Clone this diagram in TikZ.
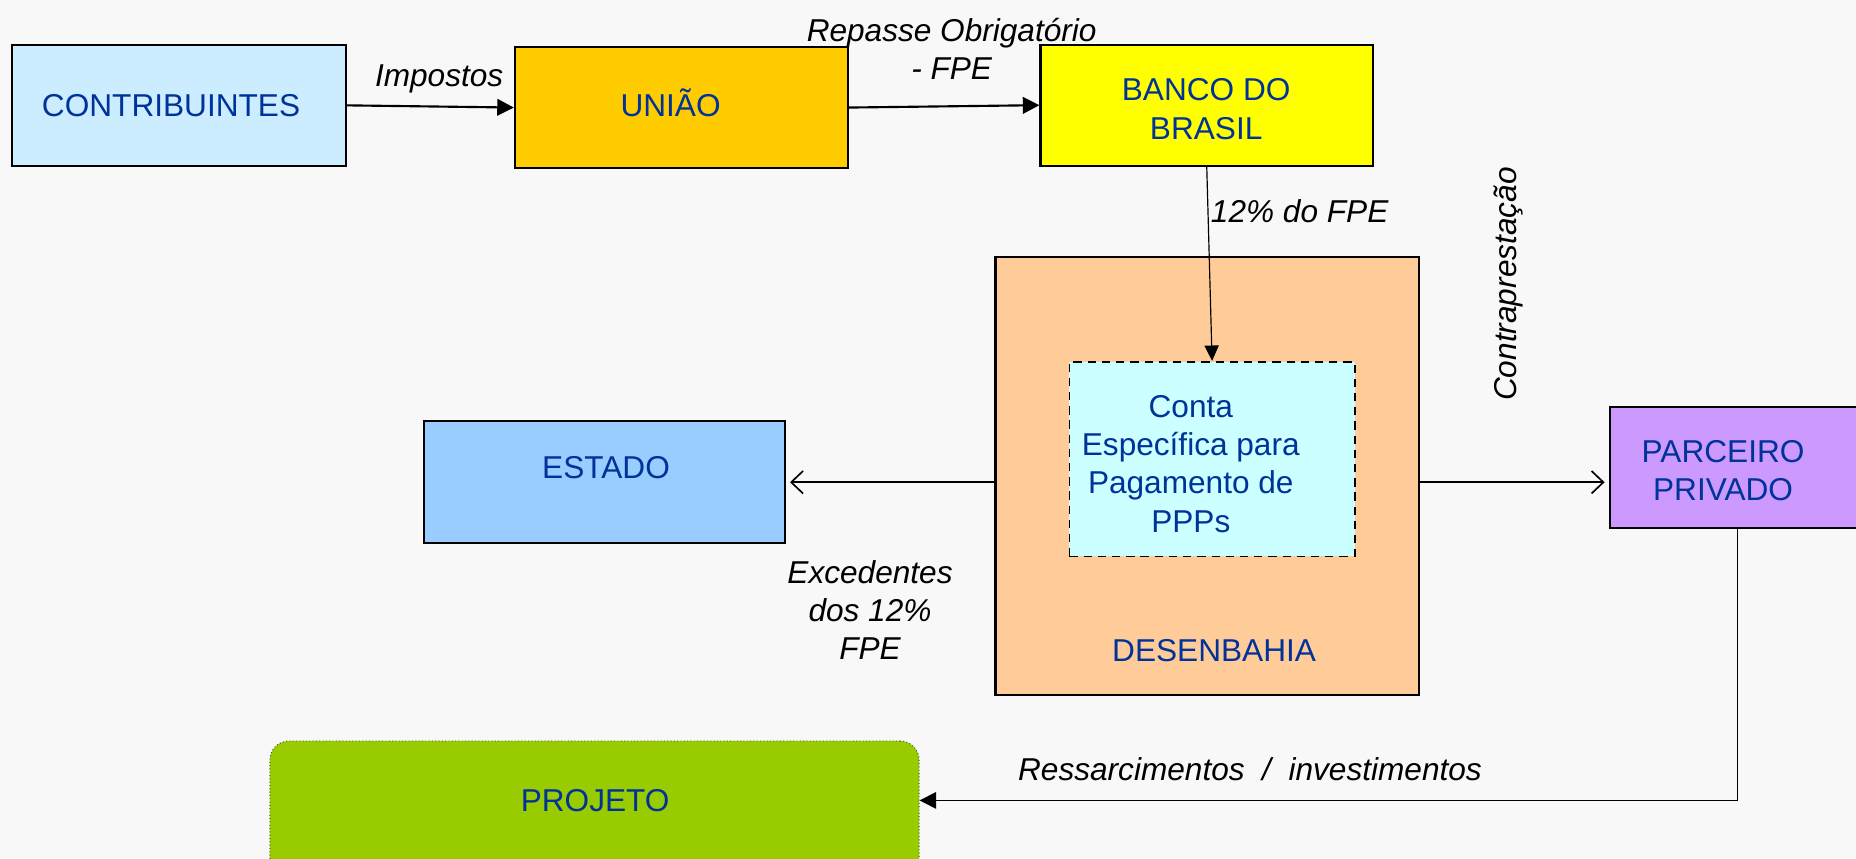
\documentclass[tikz,border=0pt]{standalone}
\usepackage{fontspec}
\setmainfont{Liberation Sans}
\usetikzlibrary{arrows.meta,fit}
\definecolor{bg}{HTML}{F8F8F8}
\definecolor{txtblue}{HTML}{003399}
\definecolor{cContrib}{HTML}{CCECFF}
\definecolor{cUniao}{HTML}{FFCC00}
\definecolor{cBanco}{HTML}{FFFF00}
\definecolor{cDesen}{HTML}{FFCC99}
\definecolor{cConta}{HTML}{CCFFFF}
\definecolor{cEstado}{HTML}{99CCFF}
\definecolor{cParc}{HTML}{CC99FF}
\definecolor{cProj}{HTML}{99CC00}
\begin{document}
\begin{tikzpicture}[x=0.5pt,y=-0.5pt,
  box/.style={draw=black, line width=0.9pt, inner sep=0pt},
  lbl/.style={font=\fontsize{13.35pt}{16.2pt}\selectfont, text=txtblue, inner sep=0pt, align=center},
  edgelbl/.style={font=\fontsize{13.35pt}{16.2pt}\selectfont\itshape, text=black, inner sep=0pt, align=center},
  solidarrow/.style={-{Triangle[length=7pt,width=7pt]}, line width=0.9pt},
  thinarrow/.style={-{Triangle[length=6.5pt,width=6pt]}, line width=0.5pt},
  openarrow/.style={-{Straight Barb[length=5pt,width=9.5pt]}, line width=0.7pt}
]
\useasboundingbox (0,0) rectangle (1568,725);
\fill[bg] (0,0) rectangle (1568,725);
\clip (0,0) rectangle (1568,725);

% boxes
\node[box, fill=cContrib, fit={(10.5,37.7) (292,140.3)}] (contrib) {};
\node[box, fill=cUniao, fit={(435,39.7) (716.5,142)}] (uniao) {};
\node[box, fill=cBanco, fit={(879,37.7) (1160,140)}] (banco) {};
\node[box, fill=cDesen, fit={(841,217) (1198.5,587)}] (desen) {};
\node[box, fill=cConta, dashed, dash pattern=on 3.5pt off 2.5pt, line width=0.7pt, fit={(903.5,305.6) (1144.5,470)}] (conta) {};
\node[box, fill=cEstado, fit={(358.5,356) (663.5,458.8)}] (estado) {};
\node[box, fill=cParc, fit={(1360.5,343.7) (1575.5,446)}] (parc) {};
\node[box, fill=cProj, draw=black!70, line width=0.4pt, densely dotted, rounded corners=8pt, fit={(228,626) (776.5,800)}] (proj) {};

% box texts
\node[lbl, anchor=base] (contribT) at (144.5,98) {CONTRIBUINTES};
\node[lbl, anchor=base] (uniaoT) at (566.5,98) {UNIÃO};
\node[lbl] (bancoT) at (1019,92.3) {BANCO DO\\BRASIL};
\node[lbl] (contaT) at (1006,391.8) {Conta\\Específica para\\Pagamento de\\PPPs};
\node[lbl, anchor=base] (estadoT) at (512,404.2) {ESTADO};
\node[lbl, anchor=base] (desenT) at (1025.7,558.8) {DESENBAHIA};
\node[lbl] (parcT) at (1455.7,397.7) {PARCEIRO\\PRIVADO};
\node[lbl, anchor=base] (projT) at (502.8,685.9) {PROJETO};

% connector labels
\node[edgelbl, anchor=base] (impostos) at (371,72.7) {Impostos};
\node[edgelbl] (repasse) at (804,41.5) {Repasse Obrigatório\\- FPE};
\node[edgelbl, anchor=base] (doze) at (1098,188) {12\% do FPE};
\node[edgelbl, rotate=90] (contra) at (1274,240) {Contraprestação};
\node[edgelbl] (exced) at (735,515.4) {Excedentes\\dos 12\%\\FPE};
\node[edgelbl, anchor=base] (ressarc) at (1056,659.7) {Ressarcimentos\ \ /\ \ investimentos};

% connectors
\draw[solidarrow] (contrib.east) -- (uniao.west);
\draw[solidarrow] (uniao.east) -- (banco.west);
\draw[thinarrow] (banco.south) -- (conta.north);
\draw[openarrow, shorten >=1.5pt] (desen.west |- estado.east) -- (estado.east);
\draw[openarrow, shorten >=2pt] (desen.east |- estado.east) -- (parc.west |- estado.east);
\draw[solidarrow, line width=0.7pt] (parc.south) |- ([yshift=-25.3pt]proj.north east);
\end{tikzpicture}
\end{document}
